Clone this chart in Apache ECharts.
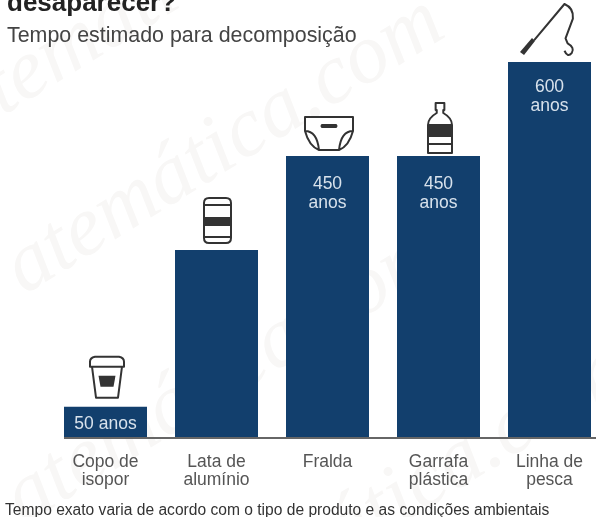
<!DOCTYPE html>
<html>
<head>
<meta charset="utf-8">
<title>Tempo estimado para decomposição</title>
<script src="https://cdn.jsdelivr.net/npm/echarts@6/dist/echarts.min.js"></script>
<style>
  html, body { margin: 0; padding: 0; background: #fff; }
  #chart { width: 596px; height: 517px; }
</style>
</head>
<body>
<div id="chart"></div>
<script>
var categories = ["Copo de\nisopor", "Lata de\nalumínio", "Fralda", "Garrafa\nplástica", "Linha de\npesca"];
var values = [50, 300, 450, 450, 600];
var valueLabels = ["50 anos", "", "450\nanos", "450\nanos", "600\nanos"];

// icons sitting on top of each bar: outline path + dark filled part
var outlineIcons = [
  { path: "M2 10 L0 10 L0 5 Q0 1 5 0 L29 0 Q34 1 34 5 L34 10 L32 10 L28 41 L6 41 Z M2 10 L32 10", w: 34, h: 41, dx: 1.5, gap: 9 },
  { path: "M5 0 L22 0 Q27 0 27 5 L27 40 Q27 45 22 45 L5 45 Q0 45 0 40 L0 5 Q0 0 5 0 Z M0 7 L27 7 M0 39 L27 39", w: 27, h: 45, dx: 1, gap: 7 },
  { path: "M0 0 L48 0 L48 14 Q44 29 34 33 L14 33 Q4 29 0 14 Z M0 14 Q12 14 14 33 M48 14 Q36 14 34 33", w: 48, h: 33, dx: 1.5, gap: 6 },
  { path: "M8 0 L16 0 L16 7 L15 7 L15 10 Q23 15 23 22 L23 50 L1 50 L1 22 Q1 15 9 10 L9 7 L8 7 Z M1 33 L23 33 M1 41 L23 41", w: 24, h: 50, dx: 1.5, gap: 3 },
  { path: "M14 35 L43 0 Q52 4 51 14 L44 33 L46 38 Q53 42 50 47 Q46 52 43 45", w: 39, h: 51, dx: 4, gap: 7 }
];
var solidIcons = [
  { path: "M0 0 L17 0 L15 11 L2 11 Z", w: 17, h: 11, dx: 1.5, gap: 20 },
  { path: "M0 0 L27 0 L27 9 L0 9 Z", w: 27, h: 9, dx: 1, gap: 24 },
  { path: "M2 0 L15 0 Q17 2 15 4 L2 4 Q0 2 2 0 Z", w: 17, h: 4, dx: 1.5, gap: 28 },
  { path: "M0 0 L24 0 L24 12 L0 12 Z", w: 24, h: 12, dx: 1.5, gap: 20 },
  { path: "M12 0 L15 3 L4 17 L0 14 Z", w: 15, h: 17, dx: -22, gap: 7 }
];

function iconPath(ic, c, style) {
  return {
    type: "path",
    shape: {
      pathData: ic.path,
      x: c[0] + ic.dx - ic.w / 2,
      y: c[1] - ic.gap - ic.h,
      width: ic.w,
      height: ic.h,
      layout: "cover"
    },
    style: style
  };
}

function renderIcon(params, api) {
  var i = api.value(0);
  var c = api.coord([i, api.value(1)]);
  return {
    type: "group",
    children: [
      iconPath(outlineIcons[i], c, { fill: i === 4 ? "none" : "#fff", stroke: "#333", lineWidth: 2, lineJoin: "round" }),
      iconPath(solidIcons[i], c, { fill: "#333" })
    ]
  };
}

function watermark(text, x, y) {
  return {
    type: "text", x: x, y: y, rotation: 0.55, z: -10, silent: true,
    style: { text: text, fill: "#f8f7f6", font: "italic 85px 'Liberation Serif'" }
  };
}

var myChart = echarts.init(document.getElementById("chart"), null, { renderer: "canvas" });
var option = {
  animation: false,
  backgroundColor: "#fff",
  textStyle: { fontFamily: "'Liberation Sans', Arial, sans-serif" },
  title: [
    { text: "desaparecer?", left: 2, top: -14, textStyle: { fontSize: 26, fontWeight: "bold", color: "#222" } },
    { text: "Tempo estimado para decomposição", left: 2, top: 21, textStyle: { fontSize: 21.4, fontWeight: "normal", color: "#444" } },
    { text: "Tempo exato varia de acordo com o tipo de produto e as condições ambientais", left: 0, top: 498, textStyle: { fontSize: 15.6, fontWeight: "normal", color: "#333" } }
  ],
  // boundaryGap off so the first and last bars hang past the grid, band spacing 111px
  grid: { left: 105.5, right: 46.5, top: 62, height: 376 },
  xAxis: {
    type: "category",
    data: categories,
    boundaryGap: false,
    axisLine: { show: false },
    axisTick: { show: false },
    axisLabel: { interval: 0, margin: 15, fontSize: 17.5, lineHeight: 18, color: "#555" }
  },
  yAxis: { type: "value", min: 0, max: 600, show: false },
  series: [
    {
      type: "bar",
      barWidth: 83,
      clip: false,
      data: values.map(function (v, i) {
        return {
          value: v,
          label: {
            show: valueLabels[i] !== "",
            position: i === 0 ? "inside" : "insideTop",
            distance: i === 4 ? 16 : 19,
            offset: i === 0 ? [0, 2] : [0, 0],
            formatter: valueLabels[i]
          }
        };
      }),
      itemStyle: { color: "#123f6d" },
      label: { fontSize: 17.5, lineHeight: 19, color: "#d8e2ec" }
    },
    {
      type: "custom",
      z: 5,
      clip: false,
      data: values.map(function (v, i) { return [i, v]; }),
      encode: { x: 0, y: 1 },
      renderItem: renderIcon
    }
  ],
  graphic: [
    watermark("matemática.com", -120, 115),
    watermark("atemática.com", -10, 240),
    watermark("atemática.com", -10, 470),
    watermark("atemática.com", 170, 590),
    { type: "line", z: 4, silent: true, shape: { x1: 64, y1: 438, x2: 596, y2: 438 }, style: { stroke: "#666", lineWidth: 2 } }
  ]
};
option && myChart.setOption(option);
</script>
</body>
</html>
